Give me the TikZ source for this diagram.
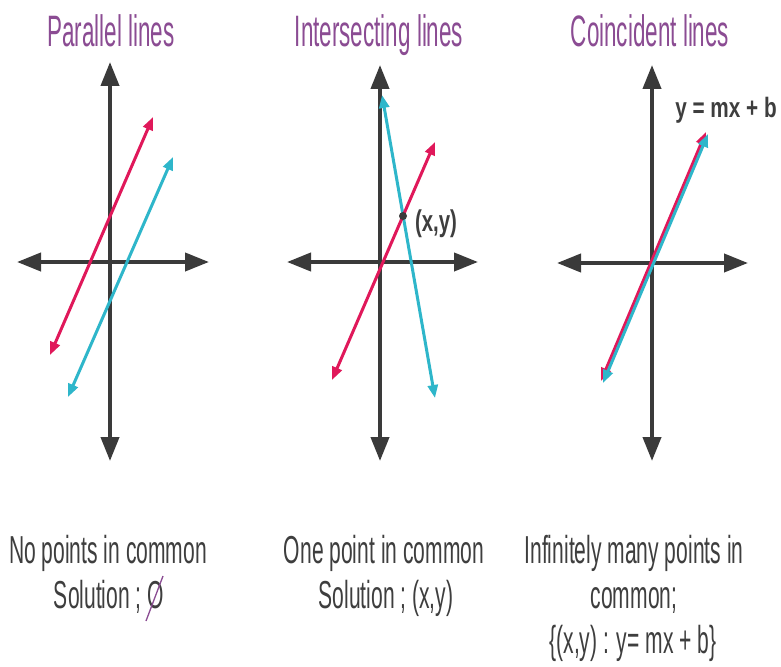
\documentclass[tikz,border=0pt]{standalone}
\usepackage{fontspec}
\setmainfont{Liberation Sans}
\usetikzlibrary{arrows.meta}
\definecolor{axiscol}{HTML}{3A3A3A}
\definecolor{redl}{HTML}{E0185A}
\definecolor{cyanl}{HTML}{2EB6CA}
\definecolor{ttl}{HTML}{8B4C93}
\definecolor{txt}{HTML}{3E3E3E}
\begin{document}
\begin{tikzpicture}[x=1pt,y=-1pt,
  axisline/.style={line width=4pt, draw=axiscol,
    {Triangle[length=24pt,width=18pt]}-{Triangle[length=24pt,width=18pt]}},
  redline/.style={line width=3pt, draw=redl,
    {Triangle[length=13pt,width=10pt]}-{Triangle[length=13pt,width=10pt]}},
  cyanline/.style={line width=3pt, draw=cyanl,
    {Triangle[length=13pt,width=10pt]}-{Triangle[length=13pt,width=10pt]}},
  titletxt/.style={text=ttl, inner sep=0pt, anchor=base, xscale=0.51,
    font=\fontsize{44}{50}\selectfont},
  bottomtxt/.style={text=txt, inner sep=0pt, anchor=base, xscale=0.54,
    font=\fontsize{39}{45}\selectfont},
  labeltxt/.style={text=txt, inner sep=0pt, font=\bfseries\fontsize{30}{34}\selectfont},
  slashline/.style={draw=ttl, line width=1.3pt}
]
\useasboundingbox[fill=white] (0,0) rectangle (781,666);

% ---------- Panel 1: parallel ----------
\node[titletxt] (t1) at (111,47) {Parallel lines};
\coordinate (a1t) at (110,62);  \coordinate (a1b) at (110,461);
\coordinate (a1l) at (17,262);  \coordinate (a1r) at (209,262);
\draw[axisline] (a1b) -- (a1t);
\draw[axisline] (a1l) -- (a1r);
\coordinate (r1a) at (50,355);  \coordinate (r1b) at (153,117);
\coordinate (c1a) at (68,397);  \coordinate (c1b) at (173,157);
\draw[redline] (r1a) -- (r1b);
\draw[cyanline] (c1a) -- (c1b);
\node[bottomtxt] (b1a) at (108,563) {No points in common};
\node[bottomtxt] (b1b) at (109,608) {Solution ; O};
\coordinate (s1a) at (163,576); \coordinate (s1b) at (146,621);
\draw[slashline] (s1a) -- (s1b);

% ---------- Panel 2: intersecting ----------
\node[titletxt] (t2) at (379,47) {Intersecting lines};
\coordinate (a2t) at (380,65);  \coordinate (a2b) at (380,461);
\coordinate (a2l) at (287,262); \coordinate (a2r) at (478,262);
\draw[axisline] (a2b) -- (a2t);
\draw[axisline] (a2l) -- (a2r);
\coordinate (c2a) at (382,95);  \coordinate (c2b) at (435,398);
\coordinate (r2a) at (332,380); \coordinate (r2b) at (435,142);
\draw[cyanline] (c2a) -- (c2b);
\draw[redline] (r2a) -- (r2b);
\node[circle, fill=axiscol, inner sep=0pt, minimum size=8pt] (p2) at (403,216) {};
\node[labeltxt, xscale=0.68] (l2) at (436,224) {(x,y)};
\node[bottomtxt] (b2a) at (384,563) {One point in common};
\node[bottomtxt] (b2b) at (386,608) {Solution ; (x,y)};

% ---------- Panel 3: coincident ----------
\node[titletxt] (t3) at (650,47) {Coincident lines};
\coordinate (a3t) at (652,65);  \coordinate (a3b) at (652,461);
\coordinate (a3l) at (557,263); \coordinate (a3r) at (748,263);
\draw[axisline] (a3b) -- (a3t);
\draw[axisline] (a3l) -- (a3r);
\coordinate (r3a) at (601,381); \coordinate (r3b) at (706,132);
\coordinate (c3a) at (603,383); \coordinate (c3b) at (708,134);
\draw[redline] (r3a) -- (r3b);
\draw[cyanline] (c3a) -- (c3b);
\node[labeltxt, xscale=0.74, font=\bfseries\fontsize{28}{32}\selectfont] (l3) at (726,110) {y = mx + b};
\node[bottomtxt] (b3a) at (634,563) {Infinitely many points in};
\node[bottomtxt] (b3b) at (634,608) {common;};
\node[bottomtxt] (b3c) at (633,653) {\{(x,y) : y= mx + b\}};
\end{tikzpicture}
\end{document}
